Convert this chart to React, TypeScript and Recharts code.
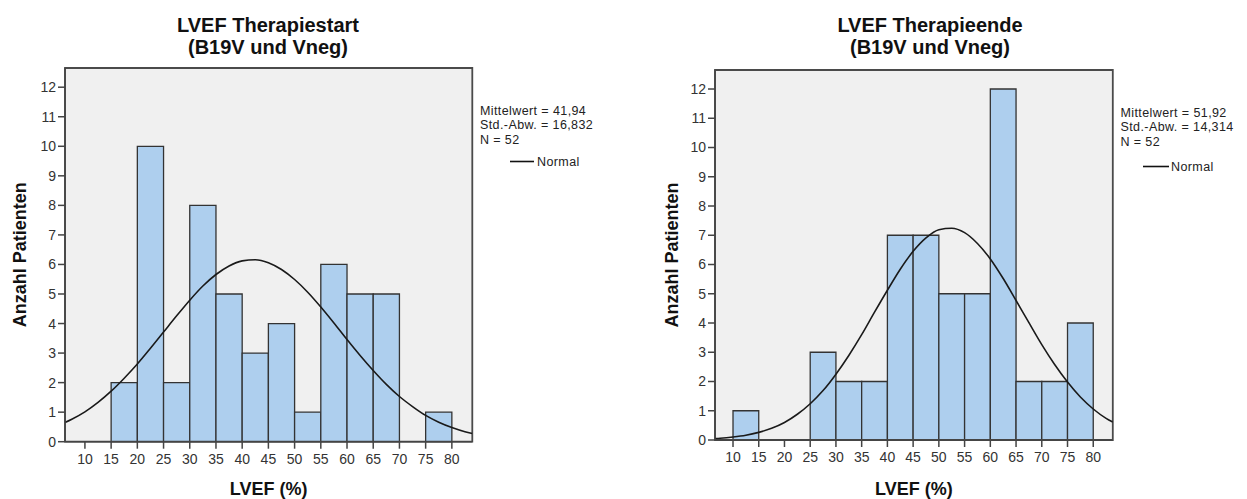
import { ComposedChart, XAxis, YAxis, CartesianGrid, Line, ReferenceArea } from "recharts"

// histogram bins: lower edge of each 5%-wide class
const binStarts = [10, 15, 20, 25, 30, 35, 40, 45, 50, 55, 60, 65, 70, 75]
const binWidth = 5
const startCounts = [0, 2, 10, 2, 8, 5, 3, 4, 1, 6, 5, 5, 0, 1]
const endCounts = [1, 0, 0, 3, 2, 2, 7, 7, 5, 5, 12, 2, 2, 4]

const xTicks = [10, 15, 20, 25, 30, 35, 40, 45, 50, 55, 60, 65, 70, 75, 80]
const yTicks = [0, 1, 2, 3, 4, 5, 6, 7, 8, 9, 10, 11, 12]
const yMax = 12.65

// normal curves
const startCurveX = [6.2, 7.5, 10, 12.5, 15, 17.5, 20, 22.5, 25, 27.5, 30, 32.5, 35, 37.5, 40, 42.5, 45, 47.5, 50, 52.5, 55, 57.5, 60, 62.5, 65, 67.5, 70, 72.5, 75, 77.5, 80, 82.5, 83.9]
const startCurveY = [0.65, 0.76, 1.01, 1.33, 1.71, 2.15, 2.63, 3.16, 3.71, 4.26, 4.79, 5.27, 5.66, 5.95, 6.12, 6.16, 6.06, 5.83, 5.49, 5.06, 4.56, 4.02, 3.46, 2.92, 2.41, 1.94, 1.53, 1.19, 0.89, 0.66, 0.48, 0.34, 0.28]
const endCurveX = [6.5, 7.5, 10, 12.5, 15, 17.5, 20, 22.5, 25, 27.5, 30, 32.5, 35, 37.5, 40, 42.5, 45, 47.5, 50, 52.5, 55, 57.5, 60, 62.5, 65, 67.5, 70, 72.5, 75, 77.5, 80, 82.5, 83.8]
const endCurveY = [0.05, 0.06, 0.1, 0.16, 0.26, 0.4, 0.6, 0.88, 1.24, 1.69, 2.25, 2.89, 3.6, 4.37, 5.12, 5.84, 6.45, 6.91, 7.19, 7.24, 7.09, 6.72, 6.19, 5.52, 4.77, 4.01, 3.26, 2.58, 1.98, 1.47, 1.06, 0.74, 0.61]

const font = "'Liberation Sans', Arial, sans-serif"

type HistProps = {
  counts: number[]
  curveX: number[]
  curveY: number[]
  xDomain: [number, number]
  width: number
  top: number
  right: number
  yAxisWidth: number
  xAxisHeight: number
  yLabelOffset: number
}

function Histogram({ counts, curveX, curveY, xDomain, width, top, right, yAxisWidth, xAxisHeight, yLabelOffset }: HistProps) {
  const curve = curveX.map((x, i) => ({ x, y: curveY[i] }))
  return (
    <ComposedChart width={width} height={499} data={curve} margin={{ top, right, bottom: 0, left: 0 }}>
      <CartesianGrid horizontal={false} vertical={false} fill="#f0f0f0" />
      <XAxis
        type="number"
        dataKey="x"
        domain={xDomain}
        allowDataOverflow
        ticks={xTicks}
        interval={0}
        height={xAxisHeight}
        tickSize={7}
        tickMargin={5}
        stroke="#444"
        strokeWidth={1.5}
        tick={{ fill: "#333", fontSize: 14, fontFamily: font }}
        label={{ value: "LVEF (%)", position: "insideBottom", offset: 4, fontSize: 18, fontWeight: "bold", fill: "#111", fontFamily: font }}
      />
      <YAxis
        type="number"
        domain={[0, yMax]}
        allowDataOverflow
        ticks={yTicks}
        interval={0}
        width={yAxisWidth}
        tickSize={7}
        tickMargin={2}
        stroke="#444"
        strokeWidth={1.5}
        tick={{ fill: "#333", fontSize: 14, fontFamily: font }}
        label={{
          value: "Anzahl Patienten",
          angle: -90,
          position: "insideLeft",
          offset: yLabelOffset,
          fontSize: 18,
          fontWeight: "bold",
          fill: "#111",
          fontFamily: font,
          style: { textAnchor: "middle" },
        }}
      />
      {binStarts.map((b, i) =>
        counts[i] > 0 ? (
          <ReferenceArea
            key={b}
            x1={b}
            x2={b + binWidth}
            y1={0}
            y2={counts[i]}
            fill="#aecfee"
            fillOpacity={1}
            stroke="#333"
            strokeWidth={1.3}
          />
        ) : null
      )}
      <Line dataKey="y" type="monotone" stroke="#1a1a1a" strokeWidth={1.6} dot={false} isAnimationActive={false} />
      <ReferenceArea x1={xDomain[0]} x2={xDomain[1]} y1={0} y2={yMax} fill="none" stroke="#4a4a4a" strokeWidth={1.8} />
    </ComposedChart>
  )
}

export default function App() {
  const legendStyle = { fontSize: 12.5, letterSpacing: 0.4, fill: "#222", fontFamily: font }
  const titleStyle = { fontSize: 20, fontWeight: "bold" as const, fill: "#111", fontFamily: font }
  return (
    <div style={{ position: "absolute", left: 0, top: 0, width: 1247, height: 499, background: "#fff" }}>
      <div style={{ position: "absolute", left: 0, top: 0 }}>
        <Histogram
          counts={startCounts}
          curveX={startCurveX}
          curveY={startCurveY}
          xDomain={[6.2, 83.9]}
          width={620}
          top={68}
          right={147.7}
          yAxisWidth={65}
          xAxisHeight={57.3}
          yLabelOffset={20}
        />
      </div>
      <div style={{ position: "absolute", left: 620, top: 0 }}>
        <Histogram
          counts={endCounts}
          curveX={endCurveX}
          curveY={endCurveY}
          xDomain={[6.5, 83.8]}
          width={627}
          top={70}
          right={134.2}
          yAxisWidth={95}
          xAxisHeight={59}
          yLabelOffset={52}
        />
      </div>
      <svg width={1247} height={499} style={{ position: "absolute", left: 0, top: 0, pointerEvents: "none" }}>
        <text x={268} y={32.3} textAnchor="middle" {...titleStyle}>LVEF Therapiestart</text>
        <text x={268} y={54.3} textAnchor="middle" {...titleStyle}>(B19V und Vneg)</text>
        <text x={930} y={32.3} textAnchor="middle" {...titleStyle}>LVEF Therapieende</text>
        <text x={930} y={54.3} textAnchor="middle" {...titleStyle}>(B19V und Vneg)</text>

        <text x={480} y={114.5} {...legendStyle}>Mittelwert = 41,94</text>
        <text x={480} y={129} {...legendStyle}>Std.-Abw. = 16,832</text>
        <text x={480} y={143.5} {...legendStyle}>N = 52</text>
        <line x1={510} x2={534} y1={161.5} y2={161.5} stroke="#111" strokeWidth={1.6} />
        <text x={537} y={166} {...legendStyle}>Normal</text>

        <text x={1120.5} y={116.5} {...legendStyle}>Mittelwert = 51,92</text>
        <text x={1120.5} y={131} {...legendStyle}>Std.-Abw. = 14,314</text>
        <text x={1120.5} y={145.5} {...legendStyle}>N = 52</text>
        <line x1={1143} x2={1169} y1={166.5} y2={166.5} stroke="#111" strokeWidth={1.6} />
        <text x={1171} y={171} {...legendStyle}>Normal</text>
      </svg>
    </div>
  )
}
